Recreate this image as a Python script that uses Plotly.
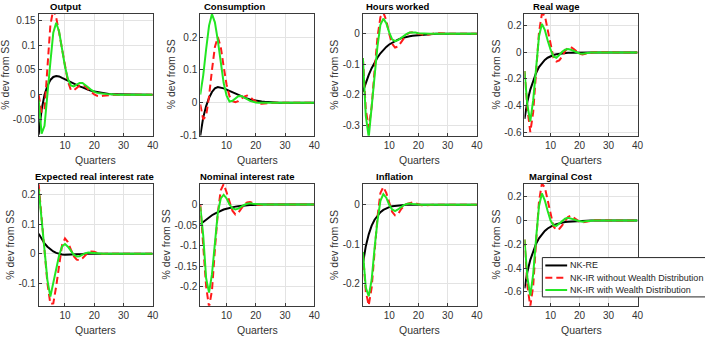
import plotly.graph_objects as go

quarters = list(range(1, 41))

titles = ["Output", "Consumption", "Hours worked", "Real wage",
          "Expected real interest rate", "Nominal interest rate", "Inflation", "Marginal Cost"]
series_names = ["NK-RE", "NK-IR without Wealth Distribution", "NK-IR with Wealth Distribution"]

# ---- Output ----
out_re = [-0.080, -0.030, 0.000, 0.018, 0.030, 0.036, 0.038, 0.037, 0.034, 0.031,
          0.028, 0.025, 0.022, 0.020, 0.017, 0.015, 0.012, 0.010, 0.008, 0.007,
          0.005, 0.004, 0.003, 0.002, 0.002, 0.001, 0.001, 0.001, 0.000, 0.000,
          0.000, 0.000, 0.000, 0.000, 0.000, 0.000, 0.000, 0.000, 0.000, 0.000]
out_ir = [0.000, -0.035, -0.030, 0.050, 0.140, 0.172, 0.155, 0.125, 0.090, 0.055,
          0.027, 0.010, 0.009, 0.014, 0.019, 0.020, 0.017, 0.011, 0.005, 0.001,
          -0.002, -0.003, -0.002, -0.001, 0.000, 0.000, 0.000, 0.000, 0.000, 0.000,
          0.000, 0.000, 0.000, 0.000, 0.000, 0.000, 0.000, 0.000, 0.000, 0.000]
out_wd = [-0.010, -0.078, -0.062, -0.005, 0.065, 0.125, 0.145, 0.127, 0.092, 0.057,
          0.032, 0.019, 0.017, 0.021, 0.024, 0.024, 0.020, 0.015, 0.010, 0.006,
          0.004, 0.003, 0.002, 0.002, 0.001, 0.001, 0.000, 0.000, 0.000, 0.000,
          0.000, 0.000, 0.000, 0.000, 0.000, 0.000, 0.000, 0.000, 0.000, 0.000]

# ---- Consumption ----
con_re = [-0.100, -0.045, -0.010, 0.015, 0.033, 0.044, 0.048, 0.047, 0.044, 0.040,
          0.036, 0.031, 0.027, 0.023, 0.019, 0.016, 0.013, 0.010, 0.008, 0.006,
          0.005, 0.004, 0.003, 0.002, 0.001, 0.001, 0.000, 0.000, 0.000, 0.000,
          0.000, 0.000, 0.000, 0.000, 0.000, 0.000, 0.000, 0.000, 0.000, 0.000]
con_ir = [-0.005, -0.050, -0.040, 0.020, 0.100, 0.170, 0.200, 0.170, 0.110, 0.055,
          0.020, 0.005, 0.002, 0.005, 0.012, 0.019, 0.022, 0.018, 0.010, 0.003,
          -0.002, -0.003, -0.003, -0.002, -0.001, 0.000, 0.000, 0.000, 0.000, 0.000,
          0.000, 0.000, 0.000, 0.000, 0.000, 0.000, 0.000, 0.000, 0.000, 0.000]
con_wd = [0.025, 0.083, 0.163, 0.235, 0.270, 0.245, 0.190, 0.120, 0.060, 0.022,
          0.004, 0.006, 0.013, 0.020, 0.021, 0.017, 0.011, 0.006, 0.003, 0.001,
          0.000, 0.000, 0.000, 0.000, 0.000, 0.000, 0.000, 0.000, 0.000, 0.000,
          0.000, 0.000, 0.000, 0.000, 0.000, 0.000, 0.000, 0.000, 0.000, 0.000]

# ---- Hours worked ----
hrs_re = [-0.190, -0.160, -0.135, -0.113, -0.094, -0.078, -0.064, -0.053, -0.043, -0.035,
          -0.029, -0.023, -0.019, -0.015, -0.012, -0.010, -0.008, -0.006, -0.005, -0.004,
          -0.003, -0.002, -0.002, -0.001, -0.001, 0.000, 0.000, 0.000, 0.000, 0.000,
          0.000, 0.000, 0.000, 0.000, 0.000, 0.000, 0.000, 0.000, 0.000, 0.000]
hrs_ir = [-0.080, -0.250, -0.310, -0.240, -0.120, -0.010, 0.055, 0.070, 0.045, 0.000,
          -0.033, -0.045, -0.042, -0.028, -0.013, -0.002, 0.004, 0.005, 0.003, 0.000,
          -0.003, -0.004, -0.003, -0.001, 0.001, 0.002, 0.002, 0.001, 0.000, 0.000,
          0.000, 0.000, 0.000, 0.000, 0.000, 0.000, 0.000, 0.000, 0.000, 0.000]
hrs_wd = [-0.080, -0.270, -0.340, -0.250, -0.140, -0.040, 0.030, 0.050, 0.035, 0.005,
          -0.018, -0.024, -0.021, -0.014, -0.006, 0.000, 0.004, 0.005, 0.004, 0.002,
          0.001, 0.000, 0.000, 0.000, 0.000, 0.000, 0.000, 0.000, 0.000, 0.000,
          0.000, 0.000, 0.000, 0.000, 0.000, 0.000, 0.000, 0.000, 0.000, 0.000]

# ---- Real wage ----
rw_re = [-0.500, -0.370, -0.280, -0.210, -0.155, -0.110, -0.080, -0.057, -0.040, -0.028,
         -0.020, -0.014, -0.010, -0.007, -0.005, -0.003, -0.002, -0.001, -0.001, 0.000,
         0.000, 0.000, 0.000, 0.000, 0.000, 0.000, 0.000, 0.000, 0.000, 0.000,
         0.000, 0.000, 0.000, 0.000, 0.000, 0.000, 0.000, 0.000, 0.000, 0.000]
rw_ir = [-0.140, -0.420, -0.600, -0.450, -0.150, 0.150, 0.290, 0.280, 0.170, 0.050,
         -0.040, -0.068, -0.060, -0.030, 0.010, 0.035, 0.040, 0.025, 0.005, -0.010,
         -0.015, -0.010, -0.004, 0.000, 0.002, 0.002, 0.001, 0.000, 0.000, 0.000,
         0.000, 0.000, 0.000, 0.000, 0.000, 0.000, 0.000, 0.000, 0.000, 0.000]
rw_wd = [-0.140, -0.400, -0.520, -0.360, -0.120, 0.120, 0.215, 0.170, 0.090, 0.020,
         -0.030, -0.040, -0.020, 0.005, 0.020, 0.025, 0.020, 0.010, 0.000, -0.008,
         -0.010, -0.005, 0.000, 0.000, 0.000, 0.000, 0.000, 0.000, 0.000, 0.000,
         0.000, 0.000, 0.000, 0.000, 0.000, 0.000, 0.000, 0.000, 0.000, 0.000]

# ---- Expected real interest rate ----
err_re = [0.068, 0.050, 0.035, 0.024, 0.015, 0.008, 0.003, 0.000, -0.002, -0.003,
          -0.003, -0.003, -0.002, -0.002, -0.001, -0.001, 0.000, 0.000, 0.000, 0.000,
          0.000, 0.000, 0.000, 0.000, 0.000, 0.000, 0.000, 0.000, 0.000, 0.000,
          0.000, 0.000, 0.000, 0.000, 0.000, 0.000, 0.000, 0.000, 0.000, 0.000]
err_ir = [0.235, 0.120, 0.000, -0.100, -0.170, -0.168, -0.110, -0.030, 0.030, 0.052,
          0.040, 0.015, -0.008, -0.020, -0.022, -0.015, -0.004, 0.005, 0.008, 0.007,
          0.003, 0.000, -0.001, 0.000, 0.000, 0.000, 0.000, 0.000, 0.000, 0.000,
          0.000, 0.000, 0.000, 0.000, 0.000, 0.000, 0.000, 0.000, 0.000, 0.000]
err_wd = [0.220, 0.120, 0.020, -0.090, -0.145, -0.100, -0.050, -0.005, 0.025, 0.033,
          0.024, 0.010, -0.003, -0.009, -0.008, -0.003, 0.002, 0.004, 0.003, 0.002,
          0.000, 0.000, 0.000, 0.000, 0.000, 0.000, 0.000, 0.000, 0.000, 0.000,
          0.000, 0.000, 0.000, 0.000, 0.000, 0.000, 0.000, 0.000, 0.000, 0.000]

# ---- Nominal interest rate ----
nom_re = [-0.048, -0.042, -0.036, -0.031, -0.026, -0.022, -0.018, -0.015, -0.012, -0.010,
          -0.008, -0.006, -0.005, -0.004, -0.003, -0.002, -0.002, -0.001, -0.001, 0.000,
          0.000, 0.000, 0.000, 0.000, 0.000, 0.000, 0.000, 0.000, 0.000, 0.000,
          0.000, 0.000, 0.000, 0.000, 0.000, 0.000, 0.000, 0.000, 0.000, 0.000]
nom_ir = [0.000, -0.090, -0.200, -0.250, -0.210, -0.110, -0.020, 0.035, 0.050, 0.030,
          0.005, -0.015, -0.024, -0.020, -0.010, 0.000, 0.005, 0.006, 0.004, 0.001,
          -0.001, -0.001, 0.000, 0.000, 0.000, 0.000, 0.000, 0.000, 0.000, 0.000,
          0.000, 0.000, 0.000, 0.000, 0.000, 0.000, 0.000, 0.000, 0.000, 0.000]
nom_wd = [-0.005, -0.075, -0.180, -0.215, -0.170, -0.085, -0.020, 0.015, 0.024, 0.015,
          0.000, -0.009, -0.012, -0.010, -0.005, -0.001, 0.002, 0.003, 0.002, 0.001,
          0.000, 0.000, 0.000, 0.000, 0.000, 0.000, 0.000, 0.000, 0.000, 0.000,
          0.000, 0.000, 0.000, 0.000, 0.000, 0.000, 0.000, 0.000, 0.000, 0.000]

# ---- Inflation ----
inf_re = [-0.150, -0.105, -0.075, -0.053, -0.038, -0.027, -0.019, -0.013, -0.009, -0.006,
          -0.004, -0.003, -0.002, -0.001, -0.001, 0.000, 0.000, 0.000, 0.000, 0.000,
          0.000, 0.000, 0.000, 0.000, 0.000, 0.000, 0.000, 0.000, 0.000, 0.000,
          0.000, 0.000, 0.000, 0.000, 0.000, 0.000, 0.000, 0.000, 0.000, 0.000]
inf_ir = [-0.120, -0.220, -0.255, -0.210, -0.120, -0.030, 0.030, 0.045, 0.030, 0.005,
          -0.018, -0.027, -0.024, -0.012, -0.003, 0.002, 0.005, 0.006, 0.004, 0.001,
          -0.001, -0.002, -0.001, 0.000, 0.000, 0.000, 0.000, 0.000, 0.000, 0.000,
          0.000, 0.000, 0.000, 0.000, 0.000, 0.000, 0.000, 0.000, 0.000, 0.000]
inf_wd = [-0.120, -0.210, -0.232, -0.190, -0.110, -0.040, 0.010, 0.027, 0.018, 0.000,
          -0.012, -0.016, -0.012, -0.006, -0.001, 0.002, 0.003, 0.002, 0.001, 0.000,
          0.000, 0.000, 0.000, 0.000, 0.000, 0.000, 0.000, 0.000, 0.000, 0.000,
          0.000, 0.000, 0.000, 0.000, 0.000, 0.000, 0.000, 0.000, 0.000, 0.000]

# ---- Marginal Cost ----
mc_re = [-0.570, -0.430, -0.330, -0.255, -0.195, -0.150, -0.115, -0.088, -0.067, -0.051,
         -0.039, -0.030, -0.023, -0.017, -0.013, -0.010, -0.008, -0.006, -0.004, -0.003,
         -0.002, -0.001, -0.001, 0.000, 0.000, 0.000, 0.000, 0.000, 0.000, 0.000,
         0.000, 0.000, 0.000, 0.000, 0.000, 0.000, 0.000, 0.000, 0.000, 0.000]
mc_ir = [-0.160, -0.550, -0.720, -0.550, -0.180, 0.160, 0.310, 0.280, 0.170, 0.050,
         -0.050, -0.080, -0.070, -0.040, 0.000, 0.030, 0.040, 0.025, 0.005, -0.010,
         -0.015, -0.010, -0.004, 0.000, 0.002, 0.002, 0.001, 0.000, 0.000, 0.000,
         0.000, 0.000, 0.000, 0.000, 0.000, 0.000, 0.000, 0.000, 0.000, 0.000]
mc_wd = [-0.160, -0.480, -0.630, -0.450, -0.150, 0.120, 0.228, 0.170, 0.080, 0.000,
         -0.040, -0.045, -0.025, -0.002, 0.015, 0.022, 0.018, 0.010, 0.000, -0.008,
         -0.010, -0.006, -0.002, 0.000, 0.000, 0.000, 0.000, 0.000, 0.000, 0.000,
         0.000, 0.000, 0.000, 0.000, 0.000, 0.000, 0.000, 0.000, 0.000, 0.000]

panel_data = [
    (out_re, out_ir, out_wd), (con_re, con_ir, con_wd),
    (hrs_re, hrs_ir, hrs_wd), (rw_re, rw_ir, rw_wd),
    (err_re, err_ir, err_wd), (nom_re, nom_ir, nom_wd),
    (inf_re, inf_ir, inf_wd), (mc_re, mc_ir, mc_wd),
]

y_ranges = [[-0.082, 0.163], [-0.1, 0.271], [-0.335, 0.066], [-0.627, 0.291],
            [-0.176, 0.237], [-0.247, 0.0506], [-0.256, 0.053], [-0.716, 0.308]]
y_ticks = [[-0.05, 0, 0.05, 0.1, 0.15], [-0.1, 0, 0.1, 0.2], [-0.3, -0.2, -0.1, 0],
           [-0.6, -0.4, -0.2, 0, 0.2], [-0.1, 0, 0.1, 0.2],
           [-0.2, -0.15, -0.1, -0.05, 0], [-0.2, -0.1, 0], [-0.6, -0.4, -0.2, 0, 0.2]]
y_ticklabels = [["-0.05", "0", "0.05", "0.1", "0.15"], ["-0.1", "0", "0.1", "0.2"],
                ["-0.3", "-0.2", "-0.1", "0"], ["-0.6", "-0.4", "-0.2", "0", "0.2"],
                ["-0.1", "0", "0.1", "0.2"], ["-0.2", "-0.15", "-0.1", "-0.05", "0"],
                ["-0.2", "-0.1", "0"], ["-0.6", "-0.4", "-0.2", "0", "0.2"]]
x_ticks = [10, 20, 30, 40]
x_ticklabels = ["10", "20", "30", "40"]

W, H = 705, 356
FONT = "Liberation Sans, Arial, sans-serif"
AX_COL = "#262626"

# pixel layout of the 8 panels
col_px = [(39, 154), (202, 317), (366, 481), (529, 643)]
row_px = [(14, 138), (187, 311)]
title_cx = [67, 237, 401, 561, 95, 250, 398, 566]
ylab_cx = [5, 172, 337, 500, 10, 167, 337, 500]
xlab_cy = [163, 336]
title_cy = [7, 180]

colors = ["black", "#ff1a1a", "#22e622"]
dashes = ["solid", "7px,4px", "solid"]

fig = go.Figure()
layout = dict(width=W, height=H, margin=dict(l=0, r=0, t=0, b=0),
              paper_bgcolor="white", plot_bgcolor="white", showlegend=False,
              font=dict(family=FONT, size=10, color=AX_COL))
annotations = []
shapes = []

for i in range(8):
    r, c = divmod(i, 4)
    x0, x1 = col_px[c]
    t0, t1 = row_px[r]
    xa = "x" if i == 0 else f"x{i+1}"
    ya = "y" if i == 0 else f"y{i+1}"
    for k in range(3):
        fig.add_trace(go.Scatter(
            x=quarters, y=panel_data[i][k], mode="lines", name=series_names[k],
            line=dict(color=colors[k], width=2, dash=dashes[k]),
            xaxis=xa, yaxis=ya, cliponaxis=True))
    axcommon = dict(showline=True, mirror=True, linecolor="#3a3a3a", linewidth=1,
                    showgrid=True, gridcolor="#e3e3e3", gridwidth=1, zeroline=False,
                    ticks="inside", ticklen=3, tickcolor="#3a3a3a",
                    tickfont=dict(family=FONT, size=10, color="#333333"))
    layout["xaxis" if i == 0 else f"xaxis{i+1}"] = dict(
        domain=[x0 / W, x1 / W], anchor=ya, range=[1, 40],
        tickmode="array", tickvals=x_ticks, ticktext=x_ticklabels, **axcommon)
    layout["yaxis" if i == 0 else f"yaxis{i+1}"] = dict(
        domain=[1 - t1 / H, 1 - t0 / H], anchor=xa, range=y_ranges[i],
        tickmode="array", tickvals=y_ticks[i], ticktext=y_ticklabels[i], **axcommon)
    annotations.append(dict(text=f"<b>{titles[i]}</b>", x=title_cx[i] / W, y=1 - title_cy[r] / H,
                            xref="paper", yref="paper", showarrow=False,
                            xanchor="center", yanchor="middle",
                            font=dict(family=FONT, size=9.5, color="black")))
    annotations.append(dict(text="Quarters", x=(x0 + x1) / 2 / W, y=1 - xlab_cy[r] / H,
                            xref="paper", yref="paper", showarrow=False,
                            xanchor="center", yanchor="middle",
                            font=dict(family=FONT, size=10.5, color="#333333")))
    annotations.append(dict(text="% dev from SS", x=ylab_cx[i] / W, y=1 - (t0 + t1) / 2 / H,
                            xref="paper", yref="paper", showarrow=False, textangle=-90,
                            xanchor="center", yanchor="middle",
                            font=dict(family=FONT, size=10.5, color="#333333")))

# legend box (drawn as shapes + text, MATLAB-style compact legend)
LEG_L, LEG_T, LEG_B = 547, 262, 302
entry_y = [270, 282.5, 295]
shapes.append(dict(type="rect", xref="paper", yref="paper",
                   x0=LEG_L / W, x1=712 / W, y0=1 - LEG_B / H, y1=1 - LEG_T / H,
                   fillcolor="white", line=dict(color="#262626", width=1), layer="above"))
for k in range(3):
    shapes.append(dict(type="line", xref="paper", yref="paper",
                       x0=550 / W, x1=572 / W, y0=1 - entry_y[k] / H, y1=1 - entry_y[k] / H,
                       line=dict(color=colors[k], width=2, dash=dashes[k]), layer="above"))
    annotations.append(dict(text=series_names[k], x=573 / W, y=1 - entry_y[k] / H,
                            xref="paper", yref="paper", showarrow=False,
                            xanchor="left", yanchor="middle",
                            font=dict(family=FONT, size=9, color="#262626")))

layout["annotations"] = annotations
layout["shapes"] = shapes
fig.update_layout(**layout)
fig.write_html("out.html")
